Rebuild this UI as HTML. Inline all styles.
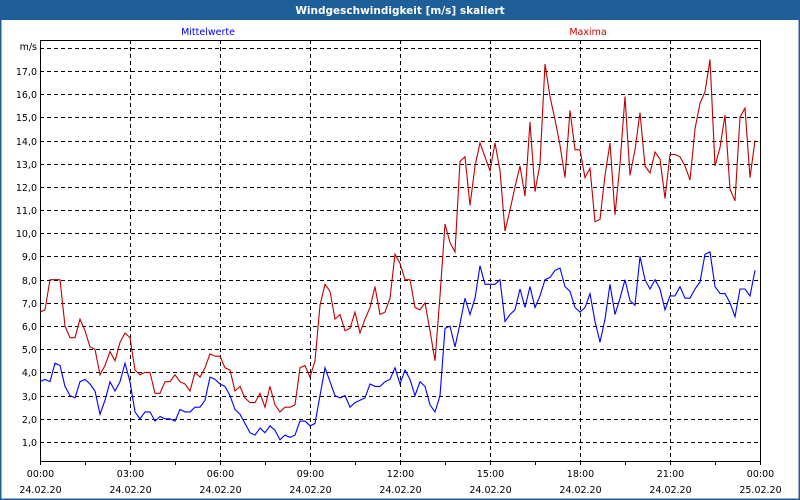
<!DOCTYPE html>
<html><head><meta charset="utf-8"><style>
body{margin:0;background:#fff}
svg{display:block;font-family:"DejaVu Sans","Liberation Sans",sans-serif}
</style></head><body>
<svg id="chart" width="800" height="500" viewBox="0 0 800 500" xmlns="http://www.w3.org/2000/svg">
<rect x="0.5" y="0.5" width="799" height="499" fill="#fff" stroke="#1f5f99" stroke-width="2"/>
<rect x="0" y="0" width="800" height="20" fill="#1f5f99"/>
<text x="400" y="14" text-anchor="middle" fill="#fff" font-size="10.5" font-weight="bold">Windgeschwindigkeit [m/s] skaliert</text>
<text x="208" y="35" text-anchor="middle" fill="#0000ff" font-size="9.5">Mittelwerte</text>
<text x="588" y="35" text-anchor="middle" fill="#cc0000" font-size="9.5">Maxima</text>
<text x="37" y="50" text-anchor="end" fill="#000" font-size="9.5">m/s</text>
<g id="grid"></g><g id="axes"></g><g id="series"></g>
</svg>
<script>
const yTicks=[1,2,3,4,5,6,7,8,9,10,11,12,13,14,15,16,17,18];
const xTickHours=[0,3,6,9,12,15,18,21,24];
const xTimeLabels=["00:00","03:00","06:00","09:00","12:00","15:00","18:00","21:00","00:00"];
const xDateLabels=["24.02.20","24.02.20","24.02.20","24.02.20","24.02.20","24.02.20","24.02.20","24.02.20","25.02.20"];
const meanValues=[3.6,3.7,3.6,4.4,4.3,3.4,3.0,2.9,3.6,3.7,3.5,3.2,2.2,2.8,3.6,3.2,3.6,4.4,3.6,2.3,2.0,2.3,2.3,1.9,2.1,2.0,2.0,1.9,2.4,2.3,2.3,2.5,2.5,2.8,3.8,3.7,3.5,3.4,3.0,2.4,2.2,1.8,1.4,1.3,1.6,1.4,1.7,1.5,1.1,
1.3,1.2,1.3,1.9,1.9,1.7,1.8,3.0,4.2,3.6,3.0,2.9,3.0,2.5,2.7,2.8,2.9,3.5,3.4,3.4,3.6,3.7,4.2,3.5,4.1,3.7,3.0,3.6,3.4,2.6,2.3,3.0,5.9,6.0,5.1,6.1,7.2,6.5,7.2,8.6,7.8,7.8,7.8,8.0,6.2,6.5,6.7,7.6,
6.8,7.7,6.8,7.3,8.0,8.1,8.4,8.5,7.7,7.5,6.8,6.6,6.8,7.4,6.2,5.3,6.3,7.8,6.5,7.2,8.0,7.1,6.9,9.0,8.0,7.6,8.0,7.6,6.7,7.3,7.3,7.7,7.2,7.2,7.6,7.9,9.1,9.2,7.7,7.4,7.4,7.0,6.4,7.6,7.6,7.3,8.4];
const maxValues=[6.6,6.7,8.0,8.0,8.0,6.0,5.5,5.5,6.3,5.8,5.1,5.0,3.9,4.3,4.9,4.5,5.3,5.7,5.5,4.1,3.9,4.0,4.0,3.1,3.1,3.6,3.6,3.9,3.6,3.5,3.2,4.0,3.8,4.2,4.8,4.7,4.7,4.2,4.1,3.2,3.4,2.9,2.7,2.7,3.1,2.5,3.4,2.6,2.3,
2.5,2.5,2.6,4.2,4.3,3.8,4.5,6.9,7.8,7.5,6.3,6.5,5.8,5.9,6.6,5.7,6.3,6.8,7.7,6.5,6.6,7.2,9.1,8.7,8.0,8.0,6.8,6.7,7.0,
5.8,4.5,7.3,10.4,9.6,9.2,13.1,13.3,11.2,12.9,13.9,13.3,12.7,13.9,12.7,10.1,
11.0,12.0,12.9,11.6,14.8,11.8,13.0,17.3,15.9,14.9,13.8,12.4,15.3,13.6,13.6,12.4,12.8,10.5,10.6,12.5,13.9,10.8,13.0,15.9,12.5,13.6,15.2,12.9,12.6,13.5,13.2,11.5,13.4,13.4,13.3,12.9,12.3,14.5,15.6,16.1,17.5,12.9,13.7,15.1,11.9,11.4,15.0,15.4,12.4,14.0];

const NS="http://www.w3.org/2000/svg";
const L=40,R=760,T=40,B=461;
const stepMin=10;
function xh(h){return L+(R-L)*h/24;}
function xi(i){return xh(i*stepMin/60);}
function yv(v){return 465.2-v*23.19;}
function mk(tag,attrs,parent){const e=document.createElementNS(NS,tag);for(const k in attrs)e.setAttribute(k,attrs[k]);parent.appendChild(e);return e;}
const grid=document.getElementById('grid'),axes=document.getElementById('axes'),series=document.getElementById('series');
yTicks.forEach(v=>{
  const y=Math.round(yv(v))+0.5;
  const g=mk('line',{x1:L,x2:R,y1:y,y2:y,stroke:'#000','stroke-dasharray':'4,3'},grid);
  
  
  if(v<=17){
    const t=mk('text',{x:37,y:y+3.5,'text-anchor':'end','font-size':'9.5',fill:'#000'},axes);
    t.textContent=v.toFixed(1).replace('.',',');
    
    
  }
});
xTickHours.forEach((h,i)=>{
  const x=Math.round(xh(h))+0.5;
  if(h>0&&h<24){
    const g=mk('line',{x1:x,x2:x,y1:T,y2:B,stroke:'#000','stroke-dasharray':'4,3'},grid);
    
    
  }
  const t1=mk('text',{x:x,y:477,'text-anchor':'middle','font-size':'9.5',fill:'#000'},axes);
  t1.textContent=xTimeLabels[i];
  
  
  const t2=mk('text',{x:x,y:493,'text-anchor':'middle','font-size':'9.5',fill:'#000'},axes);
  t2.textContent=xDateLabels[i];
  
  
});
for(let h=0;h<=24;h+=1.5){
  const x=Math.round(xh(h))+0.5;
  const t=mk('line',{x1:x,x2:x,y1:B,y2:B+4,stroke:'#000'},axes);
  
  
}
const frame=mk('path',{d:`M${L+0.5},${T+0.5}H${R+0.5}V${B+0.5}H${L+0.5}Z`,fill:'none',stroke:'#000'},axes);


function line(vals,color,name){
  const d=vals.map((v,i)=>(i?'L':'M')+xi(i).toFixed(1)+','+yv(v).toFixed(1)).join('');
  const p=mk('path',{d:d,fill:'none',stroke:color,'stroke-width':1.1},series);
  
  
}
line(maxValues,'#c00000','maxima-line');
line(meanValues,'#0000ff','mittelwerte-line');
</script>
</body></html>
